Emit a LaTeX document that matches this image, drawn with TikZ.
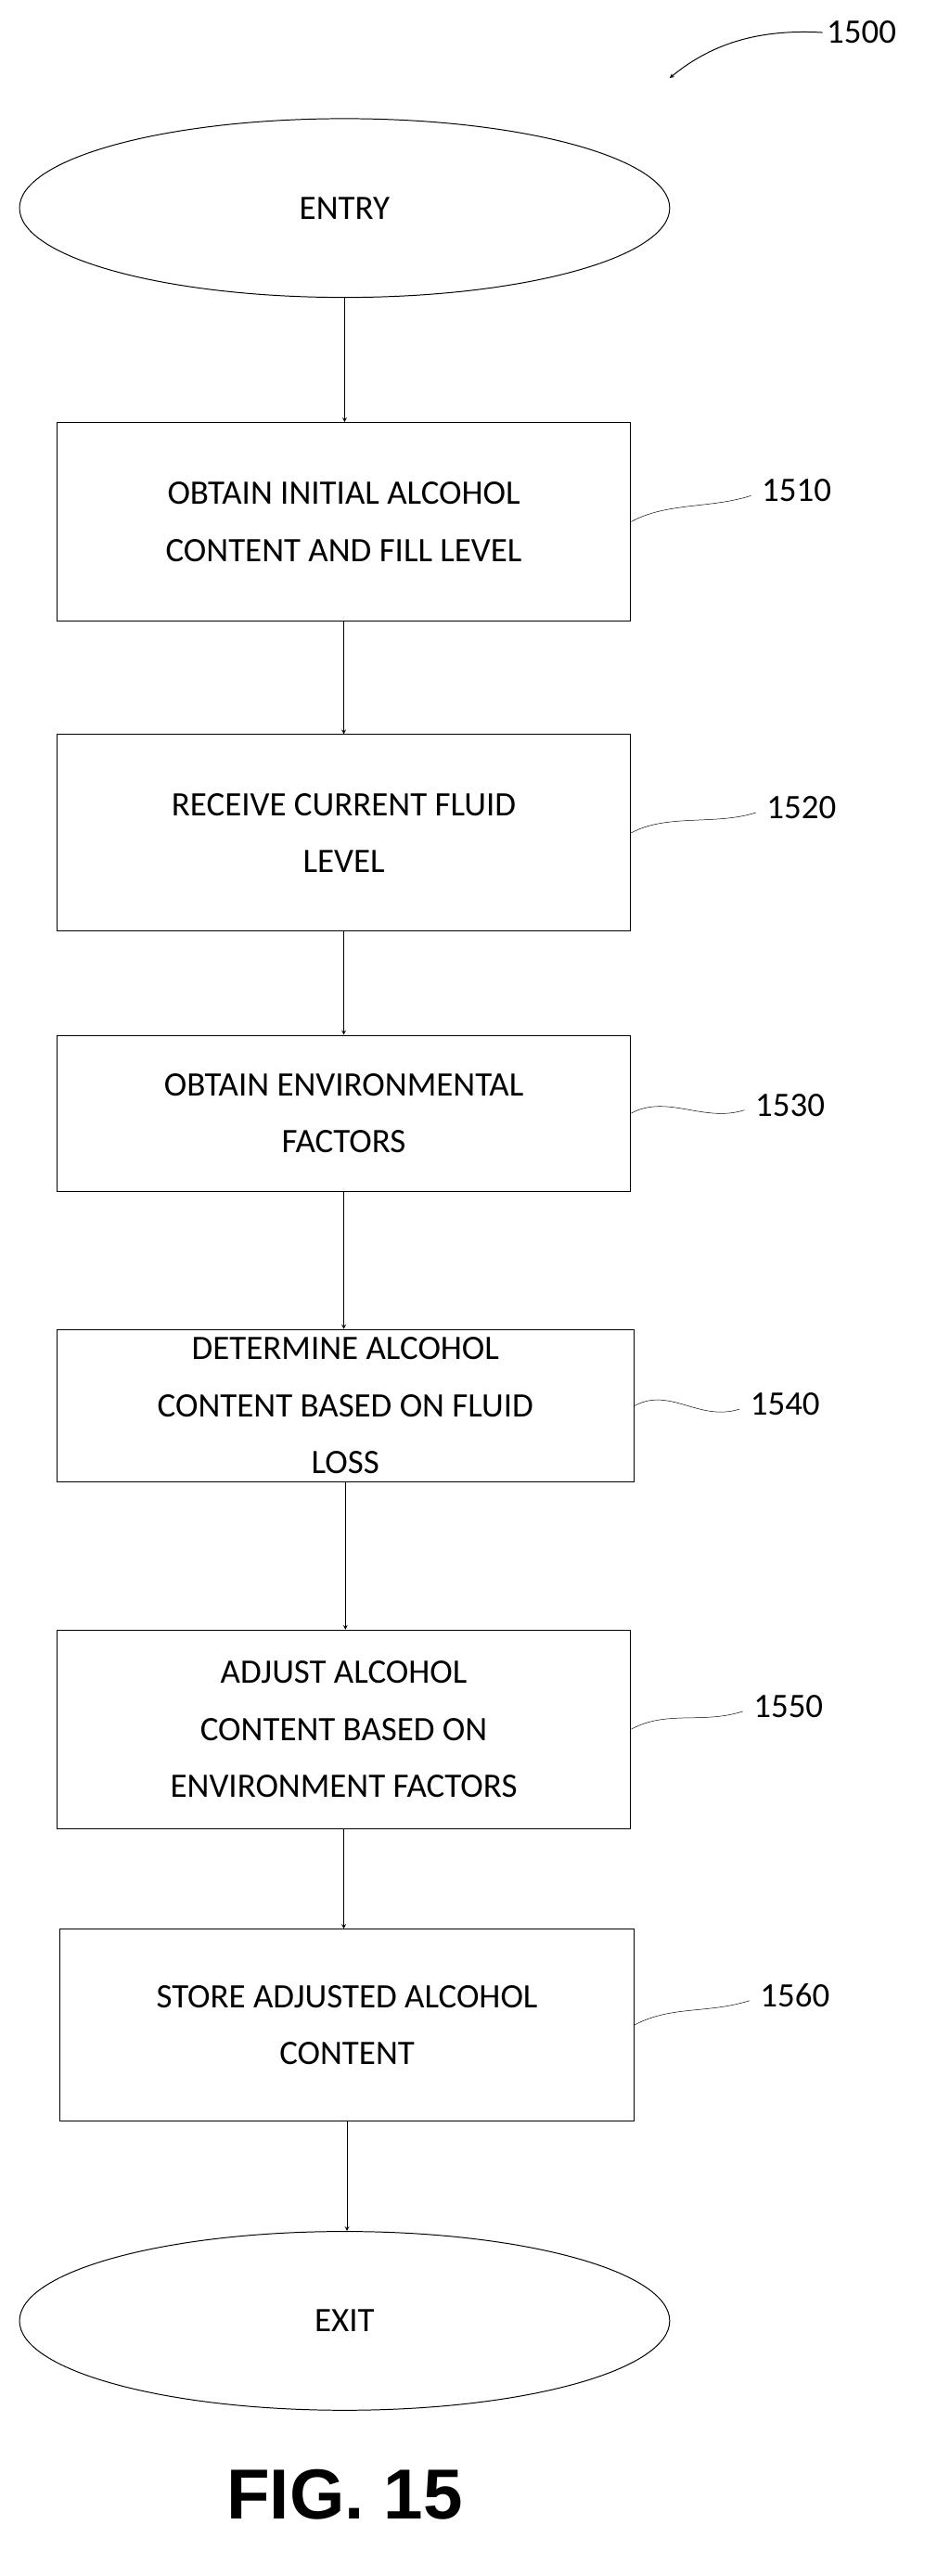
\documentclass[tikz,border=0pt]{standalone}
\usepackage{fontspec}
\setmainfont{Carlito}
\newfontfamily\figfont{Liberation Sans}
\usetikzlibrary{shapes.geometric}
\begin{document}
\begin{tikzpicture}[x=0.5mm, y=-0.5mm, thick,
    block/.style={draw, rectangle, align=center, font=\fontsize{30}{50}\selectfont},
    term/.style={draw, ellipse, minimum width=200mm, minimum height=55mm, font=\fontsize{30}{50}\selectfont},
    ref/.style={font=\fontsize{30}{36}\selectfont},
    flow/.style={->, >=stealth}]
    \useasboundingbox (0,0) rectangle (576,1585);
    % Nodes
    \node (entry) [term] at (212,128) {ENTRY};
    \node (s1510) [block, minimum width=176.5mm, minimum height=61mm] at (211.5,321) {OBTAIN INITIAL ALCOHOL\\CONTENT AND FILL LEVEL};
    \node (s1520) [block, minimum width=176.5mm, minimum height=60.5mm] at (211.5,512.5) {RECEIVE CURRENT FLUID\\LEVEL};
    \node (s1530) [block, minimum width=176.5mm, minimum height=48mm] at (211.5,685) {OBTAIN ENVIRONMENTAL\\FACTORS};
    \node (s1540) [block, minimum width=177.5mm, minimum height=47mm] at (212.5,865) {DETERMINE ALCOHOL\\CONTENT BASED ON FLUID\\LOSS};
    \node (s1550) [block, minimum width=176.5mm, minimum height=61mm] at (211.5,1064) {ADJUST ALCOHOL\\CONTENT BASED ON\\ENVIRONMENT FACTORS};
    \node (s1560) [block, minimum width=176.5mm, minimum height=59mm] at (213.5,1246) {STORE ADJUSTED ALCOHOL\\CONTENT};
    \node (exit) [term] at (212,1428) {EXIT};
    \node (fig) [font=\figfont\bfseries\fontsize{62}{70}\selectfont] at (212,1535) {FIG. 15};
    \node (r1500) [ref] at (530,20) {1500};
    \node (r1510) [ref] at (490,302) {1510};
    \node (r1520) [ref] at (493,497) {1520};
    \node (r1530) [ref] at (486,680) {1530};
    \node (r1540) [ref] at (483,864) {1540};
    \node (r1550) [ref] at (485,1050) {1550};
    \node (r1560) [ref] at (489,1228) {1560};

    % Edges
    \draw[flow] (entry) -- (entry |- s1510.north);
    \draw[flow] (s1510) -- (s1510 |- s1520.north);
    \draw[flow] (s1520) -- (s1520 |- s1530.north);
    \draw[flow] (s1530) -- (s1530 |- s1540.north);
    \draw[flow] (s1540) -- (s1540 |- s1550.north);
    \draw[flow] (s1550) -- (s1550 |- s1560.north);
    \draw[flow] (s1560) -- (s1560 |- exit.north);
    \draw[flow] (r1500.west) .. controls (470,18) and (440,25) .. (412,48);
    % Leaders
    \foreach \s/\r in {s1510/r1510, s1520/r1520, s1530/r1530, s1540/r1540, s1550/r1550, s1560/r1560}
        \draw[thin] (\s.east) .. controls +(22,-12) and +(-25,8) .. ([xshift=-2mm,yshift=-1.5mm]\r.west);
\end{tikzpicture}
\end{document}
